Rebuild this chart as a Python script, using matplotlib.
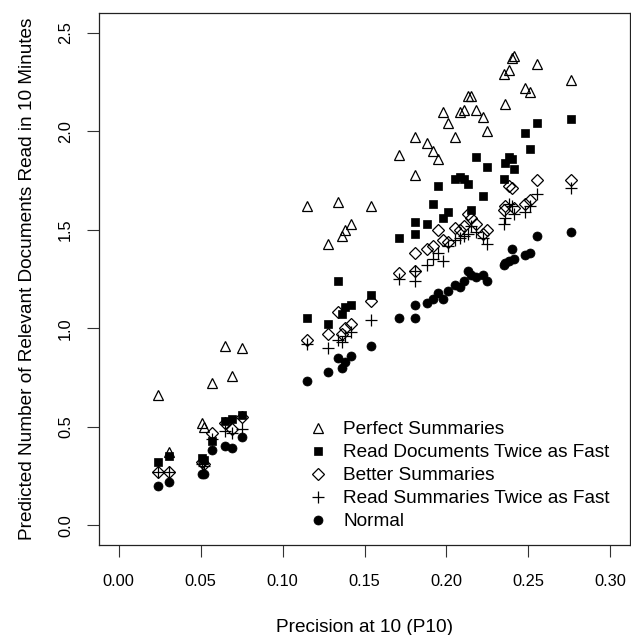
import matplotlib
matplotlib.use("Agg")
import matplotlib.pyplot as plt

plt.rcParams["font.family"] = ["Liberation Sans", "DejaVu Sans"]

# ---------------------------------------------------------------------------
# Data
# ---------------------------------------------------------------------------
precision = [
    0.024, 0.031, 0.051, 0.052, 0.057, 0.065, 0.069, 0.075,
    0.115, 0.128, 0.134, 0.136, 0.138, 0.142, 0.154,
    0.171, 0.181, 0.181, 0.188, 0.192, 0.195, 0.198, 0.201, 0.205, 0.208,
    0.211, 0.213, 0.215, 0.218, 0.222, 0.225, 0.235, 0.236, 0.238, 0.240,
    0.241, 0.248, 0.251, 0.255, 0.276,
]

perfect_summaries = [
    0.66, 0.37, 0.52, 0.50, 0.72, 0.91, 0.76, 0.90,
    1.62, 1.43, 1.64, 1.47, 1.50, 1.53, 1.62,
    1.88, 1.78, 1.97, 1.94, 1.90, 1.86, 2.10, 2.04, 1.97, 2.10,
    2.11, 2.18, 2.18, 2.11, 2.07, 2.00, 2.29, 2.14, 2.31, 2.37,
    2.38, 2.22, 2.20, 2.34, 2.26,
]

read_docs_fast = [
    0.32, 0.35, 0.34, 0.33, 0.43, 0.53, 0.54, 0.56,
    1.05, 1.02, 1.24, 1.07, 1.11, 1.12, 1.17,
    1.46, 1.48, 1.54, 1.53, 1.63, 1.72, 1.56, 1.59, 1.76, 1.77,
    1.76, 1.73, 1.60, 1.87, 1.67, 1.82, 1.76, 1.84, 1.87, 1.86,
    1.81, 1.99, 1.91, 2.04, 2.06,
]

better_summaries = [
    0.27, 0.27, 0.32, 0.31, 0.47, 0.52, 0.49, 0.55,
    0.94, 0.97, 1.08, 0.97, 1.00, 1.02, 1.14,
    1.28, 1.29, 1.38, 1.40, 1.42, 1.50, 1.45, 1.44, 1.51, 1.50,
    1.52, 1.58, 1.56, 1.53, 1.48, 1.50, 1.60, 1.62, 1.72, 1.71,
    1.61, 1.63, 1.65, 1.75, 1.75,
]

read_summ_fast = [
    0.27, 0.27, 0.31, 0.30, 0.44, 0.48, 0.47, 0.49,
    0.92, 0.90, 0.94, 0.93, 0.96, 0.98, 1.04,
    1.25, 1.24, 1.29, 1.32, 1.35, 1.38, 1.34, 1.42, 1.45, 1.46,
    1.47, 1.48, 1.52, 1.49, 1.46, 1.43, 1.53, 1.56, 1.63, 1.62,
    1.58, 1.59, 1.62, 1.68, 1.71,
]

normal = [
    0.20, 0.22, 0.26, 0.26, 0.38, 0.40, 0.39, 0.45,
    0.73, 0.78, 0.85, 0.80, 0.83, 0.86, 0.91,
    1.05, 1.05, 1.12, 1.13, 1.15, 1.18, 1.15, 1.19, 1.22, 1.21,
    1.24, 1.29, 1.27, 1.26, 1.27, 1.24, 1.32, 1.33, 1.34, 1.40,
    1.35, 1.37, 1.38, 1.47, 1.49,
]

x_ticks = [0.00, 0.05, 0.10, 0.15, 0.20, 0.25, 0.30]
y_ticks = [0.0, 0.5, 1.0, 1.5, 2.0, 2.5]

# ---------------------------------------------------------------------------
# Figure (R base-graphics look)
# ---------------------------------------------------------------------------
W, H = 631, 635
fig = plt.figure(figsize=(W / 100, H / 100), dpi=100)
ax = fig.add_axes([99 / W, 90 / H, 531 / W, 532 / H])

series = [
    (perfect_summaries, "^", dict(mfc="none", ms=6.8, mew=0.9), "Perfect Summaries"),
    (read_docs_fast, "s", dict(mfc="black", ms=6.4, mew=0.5), "Read Documents Twice as Fast"),
    (better_summaries, "D", dict(mfc="none", ms=6.4, mew=0.9), "Better Summaries"),
    (read_summ_fast, "+", dict(ms=8, mew=0.9), "Read Summaries Twice as Fast"),
    (normal, "o", dict(mfc="black", ms=6.5, mew=0.5), "Normal"),
]
for ys, marker, kw, label in series:
    ax.plot(precision, ys, marker, color="black", mec="black", label=label, **kw)

ax.set_xlim(-0.012, 0.312)
ax.set_ylim(-0.1, 2.6)
ax.set_xticks(x_ticks)
ax.set_xticklabels([f"{v:.2f}" for v in x_ticks])
ax.set_yticks(y_ticks)
ax.set_yticklabels([f"{v:.1f}" for v in y_ticks], rotation=90, va="center")

ax.tick_params(direction="out", length=8.6, width=0.8, labelsize=11.8, color="#333333")
ax.tick_params(axis="x", pad=12)
ax.tick_params(axis="y", pad=10)
for sp in ax.spines.values():
    sp.set_linewidth(0.9)
    sp.set_color("#222222")

ax.set_xlabel("Precision at 10 (P10)", fontsize=13.7, va="center")
ax.xaxis.set_label_coords(0.5, (545 - 627) / 532)
ax.set_ylabel("Predicted Number of Relevant Documents Read in 10 Minutes",
              fontsize=13.7, va="center")
ax.yaxis.set_label_coords((28 - 99) / 531, 0.5)

ax.legend(loc="upper left", bbox_to_anchor=(308.5 / W, (H - 421) / H),
          bbox_transform=fig.transFigure, frameon=False, fontsize=13.7,
          handlelength=1.0, handletextpad=0.82, labelspacing=0.3,
          borderpad=0, borderaxespad=0, numpoints=1)

fig.savefig("out.png", dpi=100)
